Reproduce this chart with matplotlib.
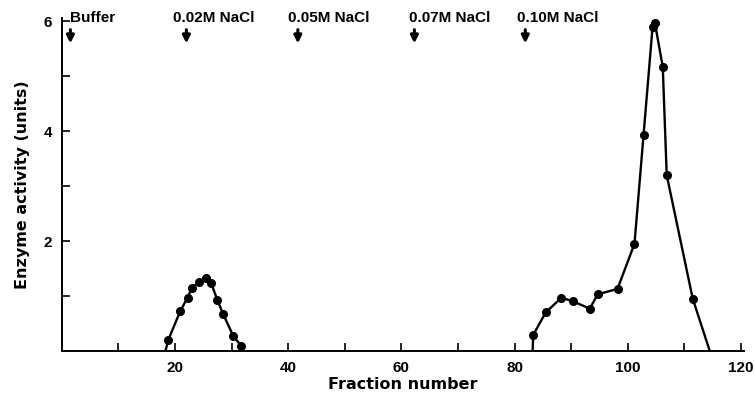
#!/usr/bin/env python3
'''
Elution profile of enzyme activity vs fraction number (NaCl step gradient).
'''

import matplotlib
matplotlib.use('Agg')
import matplotlib.pyplot as plt

plt.rcParams['font.family'] = ['Liberation Sans', 'DejaVu Sans']
plt.rcParams['font.weight'] = 'bold'

# first peak (0.02M NaCl)
peak1_x = [18.8, 20.9, 22.2, 23.0, 24.3, 25.4, 26.4, 27.5, 28.5, 30.3, 31.7]
peak1_y = [0.20, 0.72, 0.97, 1.15, 1.26, 1.32, 1.23, 0.92, 0.67, 0.27, 0.09]

# second peak (0.10M NaCl)
peak2_x = [83.3, 85.5, 88.3, 90.4, 93.3, 94.7, 98.2, 101.2, 102.8, 104.4,
           104.8, 106.2, 106.9, 111.5]
peak2_y = [0.29, 0.70, 0.97, 0.90, 0.77, 1.03, 1.13, 1.95, 3.93, 5.90,
           5.98, 5.17, 3.20, 0.95]

# where the drawn curves meet the baseline
start1, start2, end2 = 18.3, 83.2, 114.5

# elution steps
step_labels = ['Buffer', '0.02M NaCl', '0.05M NaCl', '0.07M NaCl', '0.10M NaCl']
step_arrow = [1.5, 22.0, 41.7, 62.3, 81.9]
step_text = [1.4, 19.6, 40.0, 61.3, 80.4]

xtick_vals = list(range(10, 121, 10))
ytick_vals = list(range(1, 7))


def main():
    fig = plt.figure(figsize=(7.55, 4.09), dpi=100)
    ax = fig.add_axes([0.082, 0.142, 0.903, 0.815])

    ax.plot([start1] + peak1_x, [0] + peak1_y, color='black', lw=1.7)
    ax.plot(peak1_x, peak1_y, 'o', color='black', ms=5.5)
    ax.plot([start2] + peak2_x + [end2], [0] + peak2_y + [0],
            color='black', lw=1.7)
    ax.plot(peak2_x, peak2_y, 'o', color='black', ms=5.5)

    ax.set_xlim(0, 120.5)
    ax.set_ylim(0, 6.07)

    for side in ('top', 'right'):
        ax.spines[side].set_visible(False)
    for side in ('left', 'bottom'):
        ax.spines[side].set_linewidth(1.4)

    ax.set_xticks(xtick_vals)
    ax.set_xticklabels([str(v) if v % 20 == 0 else '' for v in xtick_vals])
    ax.set_yticks(ytick_vals)
    ax.set_yticklabels([str(v) if v % 2 == 0 else '' for v in ytick_vals])
    ax.tick_params(direction='in', length=6, width=1.2, labelsize=11, pad=7)

    # wider face for the axis titles (the original is letter-spaced)
    ax.set_xlabel('Fraction number', fontsize=11.5, fontweight='bold',
                  family=['DejaVu Sans'], labelpad=2)
    ax.set_ylabel('Enzyme activity (units)', fontsize=11.5, fontweight='bold',
                  family=['DejaVu Sans'], labelpad=10)

    for lab, xa, xt in zip(step_labels, step_arrow, step_text):
        ax.text(xt, 6.07, lab, fontsize=11, fontweight='bold', ha='left',
                va='center', clip_on=False)
        ax.annotate('', xy=(xa, 5.55), xytext=(xa, 5.9),
                    arrowprops=dict(arrowstyle='-|>', color='black', lw=2.2,
                                    mutation_scale=11))

    fig.savefig('out.png', dpi=100)


if __name__ == "__main__":
    main()
